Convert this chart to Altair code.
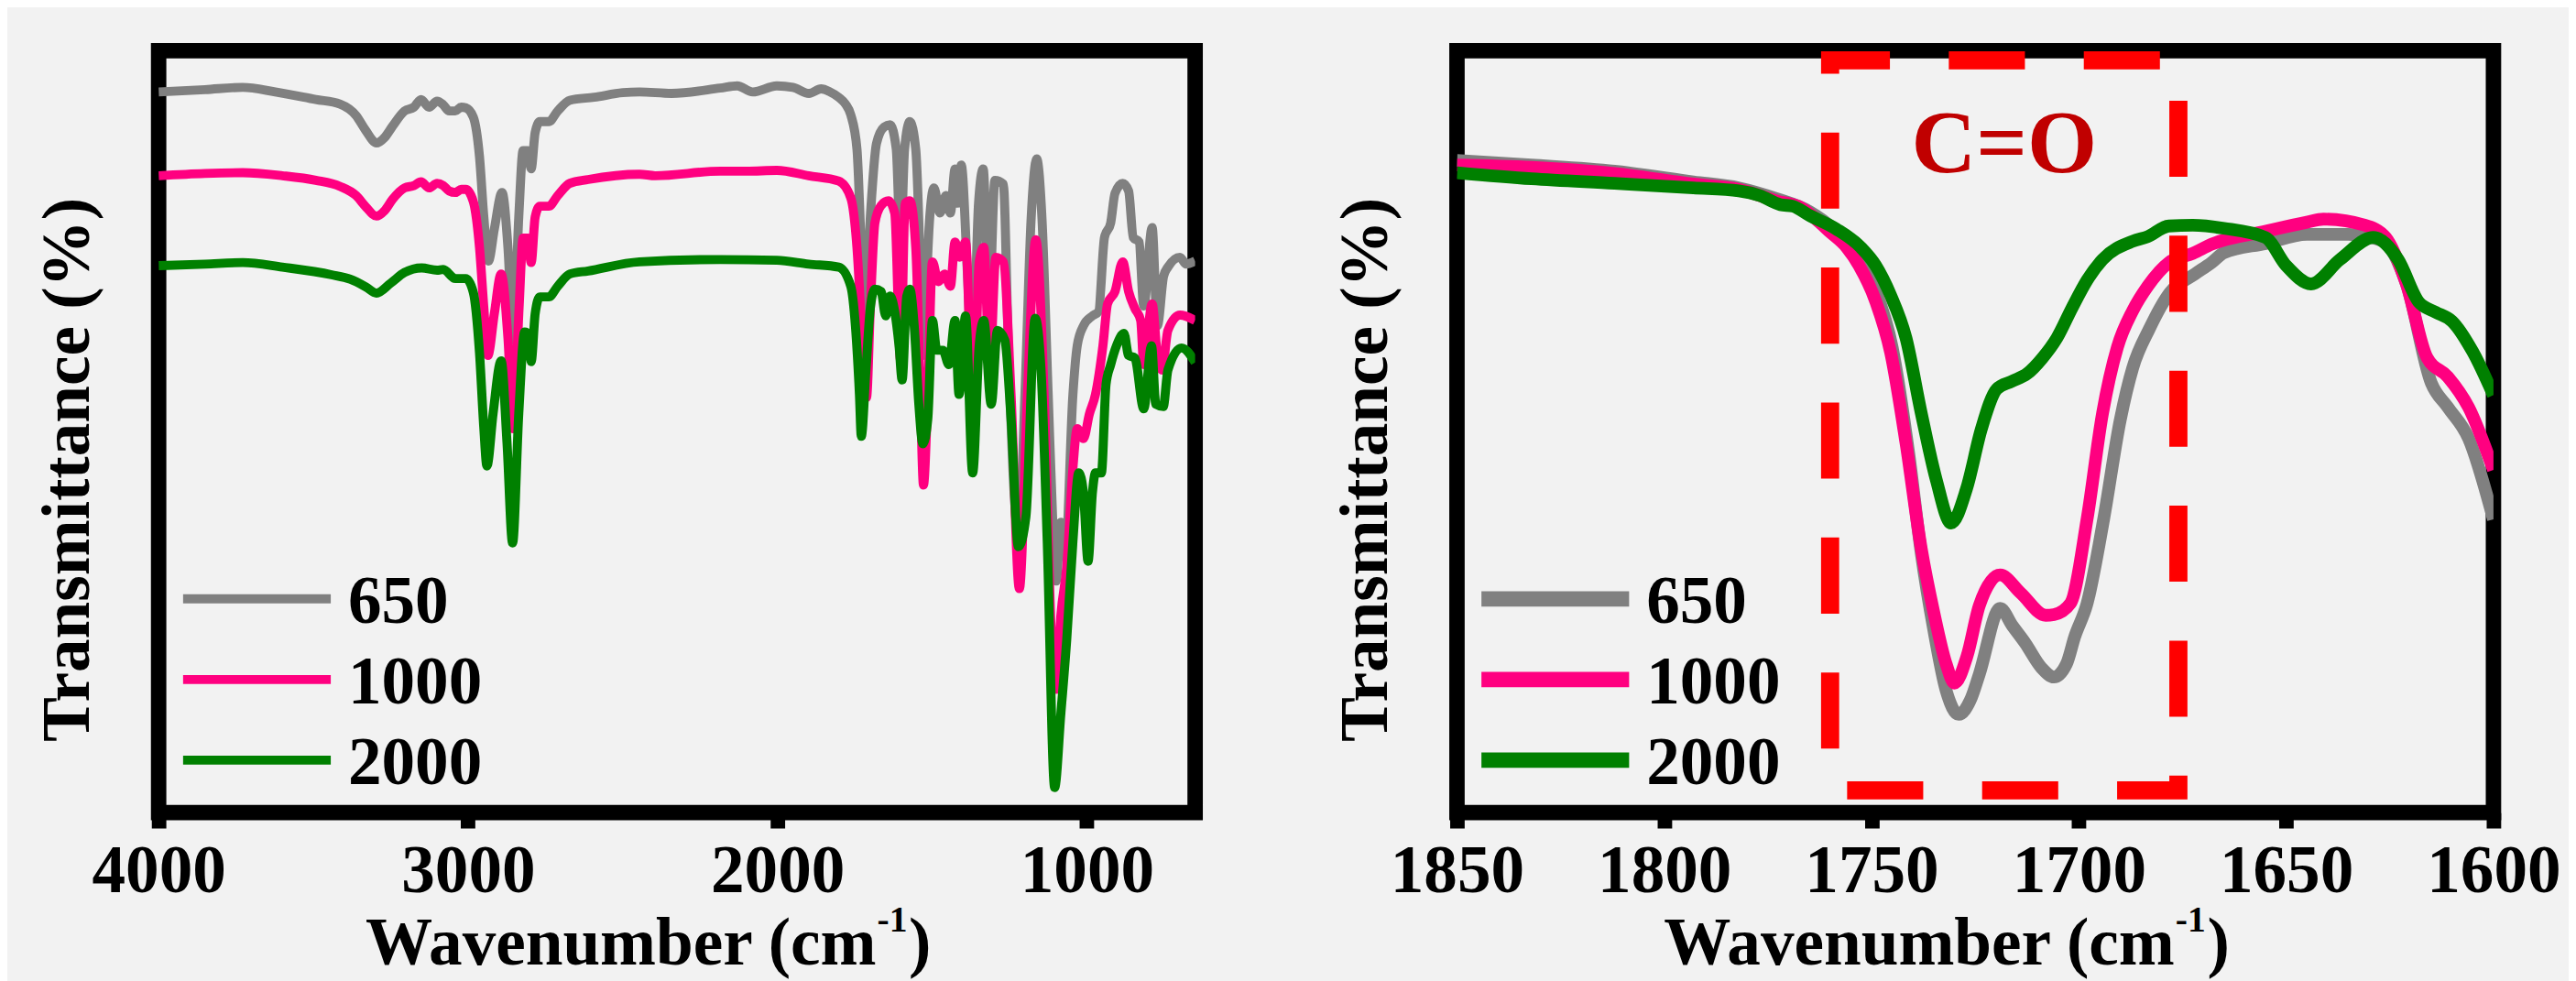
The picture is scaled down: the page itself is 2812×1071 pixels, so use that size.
import altair as alt
import pandas as pd

SERIES = ["650", "1000", "2000"]
COLORS = ["#808080", "#ff0080", "#008000"]
FONT = "Liberation Serif"

# ---------------- left panel (full range) ----------------
FULL_650_W = [4000, 3850, 3728, 3623, 3492, 3414, 3362, 3330, 3296, 3270, 3244, 3205, 3175, 3152, 3126, 3100, 3080, 3061, 3041, 3022, 3007, 2983, 2963, 2949, 2934, 2915, 2890, 2871, 2854, 2836, 2822, 2807, 2796, 2783, 2768, 2739, 2710, 2671, 2592, 2500, 2446, 2342, 2185, 2130, 2080, 2002, 1950, 1898, 1859, 1830, 1802, 1780, 1763, 1743, 1729, 1717, 1699, 1680, 1655, 1636, 1616, 1602, 1589, 1572, 1553, 1538, 1530, 1520, 1509, 1494, 1475, 1455, 1441, 1426, 1418, 1406, 1385, 1370, 1350, 1335, 1316, 1297, 1270, 1253, 1235, 1220, 1200, 1180, 1162, 1145, 1125, 1110, 1099, 1084, 1070, 1045, 1031, 1011, 982, 962, 943, 923, 909, 884, 865, 850, 831, 816, 789, 772, 752, 738, 699, 679, 650]
FULL_650_T = [94.6, 94.9, 95.2, 94.6, 93.6, 93.0, 91.5, 89.5, 87.9, 88.6, 90.1, 92.1, 92.6, 93.6, 92.6, 93.4, 92.9, 92.1, 92.1, 92.6, 92.5, 91.3, 86.1, 78.2, 72.4, 76.6, 81.4, 74.2, 62.0, 78.2, 86.9, 86.9, 84.5, 89.3, 90.7, 90.7, 92.1, 93.5, 93.9, 94.5, 94.6, 94.4, 95.1, 95.4, 94.6, 95.4, 95.2, 94.4, 95.0, 94.6, 93.9, 93.0, 91.6, 87.1, 74.2, 65.3, 78.7, 87.8, 90.0, 90.3, 87.1, 74.2, 87.1, 90.7, 87.1, 71.0, 60.0, 68.0, 77.4, 82.0, 78.7, 81.0, 78.7, 84.5, 80.0, 85.0, 70.0, 58.0, 80.0, 84.5, 66.0, 83.0, 82.5, 60.0, 42.0, 36.0, 55.0, 78.0, 85.8, 78.0, 55.0, 38.0, 30.4, 38.1, 33.6, 54.9, 61.3, 63.9, 65.2, 65.8, 75.5, 77.4, 81.3, 82.6, 81.6, 75.5, 74.9, 66.5, 76.8, 63.9, 70.4, 71.6, 72.9, 72.0, 72.4]

FULL_1000_W = [4000, 3850, 3728, 3600, 3492, 3414, 3362, 3330, 3296, 3270, 3244, 3205, 3175, 3152, 3126, 3100, 3080, 3061, 3041, 3022, 3007, 2983, 2963, 2949, 2936, 2915, 2893, 2871, 2854, 2835, 2822, 2807, 2796, 2783, 2768, 2739, 2710, 2671, 2612, 2446, 2395, 2185, 2100, 2002, 1899, 1802, 1763, 1743, 1729, 1712, 1700, 1685, 1665, 1641, 1621, 1602, 1587, 1572, 1553, 1538, 1528, 1514, 1499, 1480, 1460, 1441, 1426, 1411, 1392, 1367, 1348, 1333, 1314, 1294, 1270, 1245, 1218, 1192, 1165, 1138, 1114, 1099, 1084, 1065, 1045, 1031, 1011, 992, 972, 948, 933, 909, 884, 865, 845, 826, 816, 789, 772, 757, 738, 699, 650]
FULL_1000_T = [83.6, 83.9, 84.0, 83.6, 83.0, 82.2, 81.0, 79.5, 78.3, 79.0, 80.5, 82.0, 82.3, 82.8, 82.0, 82.6, 82.3, 81.6, 81.4, 81.8, 81.8, 80.2, 74.2, 66.3, 60.0, 65.5, 70.7, 62.3, 50.4, 66.3, 75.4, 75.4, 72.2, 78.2, 79.6, 79.6, 81.0, 82.6, 83.1, 83.8, 83.6, 84.2, 84.2, 84.3, 83.6, 82.9, 80.7, 74.2, 64.6, 54.5, 66.0, 77.4, 79.7, 80.3, 78.7, 59.4, 80.0, 80.3, 74.2, 54.9, 43.0, 54.9, 72.3, 69.7, 70.7, 69.1, 74.9, 72.9, 74.9, 50.0, 72.3, 74.2, 58.1, 72.9, 72.3, 54.9, 29.4, 54.9, 75.2, 54.9, 22.7, 16.2, 25.9, 32.3, 45.2, 50.4, 49.1, 52.3, 54.9, 61.3, 66.8, 68.4, 72.3, 68.4, 66.2, 64.6, 58.8, 66.8, 60.0, 58.1, 63.3, 65.3, 64.6]

FULL_2000_W = [4000, 3850, 3728, 3600, 3441, 3380, 3330, 3296, 3250, 3205, 3150, 3100, 3080, 3041, 3007, 2983, 2963, 2949, 2939, 2919, 2893, 2874, 2856, 2836, 2817, 2802, 2796, 2783, 2768, 2739, 2710, 2671, 2612, 2446, 2185, 2002, 1899, 1802, 1763, 1748, 1735, 1729, 1714, 1699, 1685, 1665, 1650, 1636, 1621, 1607, 1597, 1582, 1572, 1558, 1543, 1530, 1514, 1499, 1485, 1465, 1446, 1426, 1413, 1392, 1369, 1348, 1333, 1309, 1289, 1265, 1245, 1221, 1197, 1167, 1148, 1128, 1104, 1084, 1065, 1045, 1026, 1011, 996, 982, 972, 953, 938, 923, 904, 880, 865, 845, 816, 791, 777, 753, 738, 694, 650]
FULL_2000_T = [71.8, 72.0, 72.2, 71.6, 70.6, 70.0, 69.0, 68.2, 69.5, 70.9, 71.5, 71.2, 71.3, 70.1, 70.1, 68.3, 60.4, 50.5, 45.5, 52.4, 59.3, 48.5, 35.4, 52.4, 63.1, 62.7, 59.2, 65.5, 67.7, 67.7, 69.1, 70.7, 71.1, 72.3, 72.6, 72.5, 72.0, 71.6, 69.1, 63.9, 54.9, 49.4, 58.1, 66.5, 68.7, 68.4, 65.2, 67.8, 65.8, 61.3, 56.8, 67.8, 68.7, 63.9, 53.6, 48.4, 51.7, 64.6, 60.7, 60.7, 58.8, 64.6, 54.9, 65.2, 44.6, 61.3, 64.6, 53.6, 63.3, 62.0, 51.7, 34.9, 38.8, 64.9, 58.1, 35.6, 3.3, 13.0, 22.7, 35.6, 44.6, 42.0, 33.0, 42.0, 44.6, 44.6, 56.2, 58.8, 61.3, 62.9, 60.0, 59.7, 53.0, 61.3, 53.6, 53.3, 58.1, 61.0, 59.1]

# ---------------- right panel (carbonyl region) ----------------
ZOOM_650_W = [1850, 1832, 1812, 1793, 1782, 1773, 1765, 1759, 1753, 1749, 1745, 1741, 1738, 1735, 1732, 1729, 1726, 1724, 1719, 1716, 1713, 1709, 1706, 1703, 1701, 1698, 1694, 1690, 1687, 1683, 1678, 1672, 1668, 1665, 1655, 1645, 1635, 1627, 1621, 1615, 1611, 1606, 1600]
ZOOM_650_T = [85.6, 85.0, 84.2, 82.8, 82.0, 80.6, 78.9, 76.5, 72.5, 68.5, 61.0, 47.0, 34.0, 24.0, 16.0, 12.9, 15.0, 18.2, 26.8, 24.5, 22.3, 19.0, 17.8, 19.5, 23.1, 27.5, 38.6, 51.6, 58.4, 63.5, 68.3, 70.7, 72.2, 73.5, 74.7, 75.9, 75.9, 75.1, 69.4, 56.4, 53.2, 49.1, 38.5]

ZOOM_1000_W = [1850, 1832, 1812, 1793, 1782, 1773, 1767, 1760, 1756, 1753, 1749, 1745.4, 1741.7, 1738, 1735, 1732, 1730, 1727, 1724, 1719, 1714, 1708, 1706, 1702, 1698, 1694.3, 1690.7, 1687, 1683.4, 1678.3, 1672.5, 1668, 1655, 1645, 1641, 1631, 1626, 1621, 1616, 1611, 1606, 1600]
ZOOM_1000_T = [85.0, 84.7, 83.9, 82.5, 81.8, 80.3, 79.4, 76.2, 74.2, 71.8, 67.1, 60.4, 48.5, 34.6, 26.3, 19.5, 17.0, 20.5, 27.2, 31.2, 28.8, 25.9, 26.0, 27.5, 38.6, 52.4, 61.1, 65.9, 69.1, 72.2, 73.4, 74.6, 76.3, 77.5, 77.9, 77.1, 75.5, 69.4, 59.7, 57.2, 53.2, 45.0]

ZOOM_2000_W = [1850, 1832, 1812, 1793, 1782, 1777, 1772, 1769, 1765, 1758.5, 1752.6, 1749, 1745.4, 1741.7, 1738, 1734.4, 1730.8, 1727.1, 1723.5, 1719.8, 1716.2, 1712.5, 1708.9, 1705.3, 1701.6, 1698, 1694.3, 1687, 1683.4, 1678.3, 1672.5, 1665, 1655, 1650, 1644, 1637, 1629, 1623, 1618, 1614, 1610, 1605, 1600]
ZOOM_2000_T = [84.0, 83.2, 82.6, 82.0, 81.6, 81.0, 79.8, 79.6, 78.4, 76.6, 74.2, 71.8, 67.9, 62.3, 52.4, 43.7, 38.0, 42.5, 50.4, 55.6, 56.6, 57.6, 59.6, 62.3, 66.3, 69.9, 72.6, 75.0, 75.6, 77.0, 77.1, 76.7, 75.5, 71.8, 69.4, 72.6, 75.5, 72.6, 67.0, 65.7, 64.5, 60.5, 54.8]

CO_BAND = [1760, 1676]
CO_LABEL = "C=O"

FULL_TICKS = [4000, 3000, 2000, 1000]
ZOOM_TICKS = [1850, 1800, 1750, 1700, 1650, 1600]

X_TITLE = "Wavenumber (cm"
X_TITLE_SUP = "-1"
Y_TITLE = "Transmittance (%)"

W, H = 1144, 841


def make_panel(ws, ts, xdom, ticks, lw, legend_lw, extra=None):
    xaxis = alt.Axis(values=ticks, format="d", title=None, domain=False, grid=False,
                     ticks=True, tickColor="black", tickWidth=16, tickSize=17,
                     labelFont=FONT, labelFontSize=74, labelFontWeight="bold",
                     labelColor="black", labelBaseline="alphabetic", labelPadding=70,
                     labelOverlap=False, labelFlush=False)
    yaxis = alt.Axis(title=Y_TITLE, labels=False, ticks=False, domain=False, grid=False,
                     titleFont=FONT, titleFontSize=74, titleFontWeight="bold",
                     titleColor="black", titleAngle=270, titleX=-78, titleY=462,
                     titleAlign="center", titleBaseline="alphabetic")
    xs = alt.Scale(domain=xdom, nice=False, zero=False)
    ys = alt.Scale(domain=[0, 100], nice=False, zero=False)
    cs = alt.Scale(domain=SERIES, range=COLORS)
    layers = []
    for name, w, t in zip(SERIES, ws, ts):
        df = pd.DataFrame({"w": w, "T": t, "series": name})
        layers.append(
            alt.Chart(df).mark_line(strokeWidth=lw, clip=True, interpolate="monotone").encode(
                x=alt.X("w:Q", scale=xs, axis=xaxis),
                y=alt.Y("T:Q", scale=ys, axis=yaxis),
                color=alt.Color("series:N", scale=cs, legend=None),
            )
        )
    if extra:
        layers.extend(extra(xs))
    # legend
    for i, name in enumerate(SERIES):
        ldf = pd.DataFrame({"series": [name]})
        yrow = 605 + 89 * i
        layers.append(alt.Chart(ldf).mark_rule(strokeWidth=legend_lw, strokeCap="butt").encode(
            x=alt.value(27), x2=alt.value(190), y=alt.value(yrow),
            color=alt.Color("series:N", scale=cs, legend=None)))
        layers.append(alt.Chart(ldf).mark_text(align="left", baseline="alphabetic", font=FONT,
                                               fontSize=74, fontWeight="bold", color="black").encode(
            x=alt.value(209), y=alt.value(yrow + 26), text="series:N"))
    # x title with superscript
    tdf = pd.DataFrame({"a": [X_TITLE], "b": [X_TITLE_SUP], "c": [")"]})
    layers.append(alt.Chart(tdf).mark_text(align="right", baseline="alphabetic", font=FONT,
                                           fontSize=74, fontWeight="bold", color="black").encode(
        x=alt.value(792), y=alt.value(1009), text="a:N"))
    layers.append(alt.Chart(tdf).mark_text(align="left", baseline="alphabetic", font=FONT,
                                           fontSize=40, fontWeight="bold", color="black").encode(
        x=alt.value(793), y=alt.value(972), text="b:N"))
    layers.append(alt.Chart(tdf).mark_text(align="left", baseline="alphabetic", font=FONT,
                                           fontSize=74, fontWeight="bold", color="black").encode(
        x=alt.value(828), y=alt.value(1009), text="c:N"))
    return alt.layer(*layers).properties(width=W, height=H)


def co_box(xs):
    bdf = pd.DataFrame({"start": [CO_BAND[0]], "end": [CO_BAND[1]],
                        "mid": [(CO_BAND[0] + CO_BAND[1]) / 2], "label": [CO_LABEL]})
    rect = alt.Chart(bdf).mark_rect(filled=False, stroke="#ff0000", strokeWidth=20,
                                    strokeDash=[84, 65], strokeDashOffset=18).encode(
        x=alt.X("start:Q", scale=xs), x2="end:Q", y=alt.value(10.5), y2=alt.value(816.5))
    txt = alt.Chart(bdf).mark_text(align="center", baseline="alphabetic", font=FONT, fontSize=99,
                                   fontWeight="bold", color="#c00000").encode(
        x=alt.X("mid:Q", scale=xs), y=alt.value(134), text="label:N")
    return [rect, txt]


left = make_panel([FULL_650_W, FULL_1000_W, FULL_2000_W],
                  [FULL_650_T, FULL_1000_T, FULL_2000_T],
                  [4000, 650], FULL_TICKS, 10, 10)
right = make_panel([ZOOM_650_W, ZOOM_1000_W, ZOOM_2000_W],
                   [ZOOM_650_T, ZOOM_1000_T, ZOOM_2000_T],
                   [1850, 1600], ZOOM_TICKS, 14, 17, extra=co_box)

chart = alt.hconcat(left, right, spacing=134).properties(
    padding={"left": 21, "top": 33, "right": 0, "bottom": 0},
    background="#f2f2f2",
).configure_view(stroke="black", strokeWidth=17, fill="#f2f2f2")

chart.save("out.html", embed_options={"renderer": "svg", "actions": False})
